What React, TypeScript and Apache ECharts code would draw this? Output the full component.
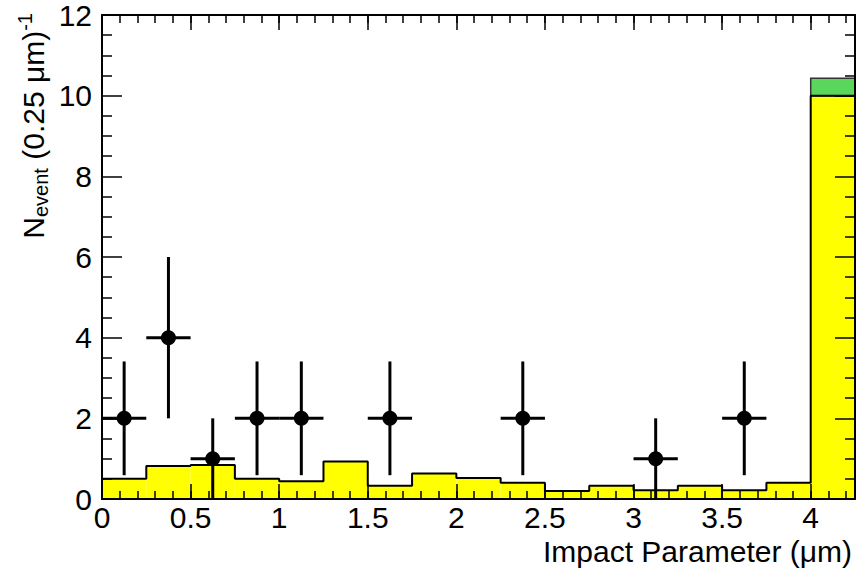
import React, { useEffect, useRef } from 'react';
import * as echarts from 'echarts';

// Histogram bins (left edges), width 0.25 um
const binEdges = [0, 0.25, 0.5, 0.75, 1.0, 1.25, 1.5, 1.75, 2.0, 2.25, 2.5, 2.75, 3.0, 3.25, 3.5, 3.75, 4.0];
const binWidth = 0.25;
// Yellow background expectation per bin
const bgValues = [0.5, 0.82, 0.84, 0.5, 0.44, 0.93, 0.33, 0.63, 0.52, 0.4, 0.2, 0.33, 0.22, 0.33, 0.22, 0.4, 10.0];
// Green component stacked on top
const greenValues = [0, 0, 0, 0, 0, 0, 0, 0, 0, 0, 0, 0, 0, 0, 0, 0, 0.43];

// Data points
const ptX = [0.125, 0.375, 0.625, 0.875, 1.125, 1.625, 2.375, 3.125, 3.625];
const ptY = [2, 4, 1, 2, 2, 2, 2, 1, 2];
const errLow = [1.41, 2, 1, 1.41, 1.41, 1.41, 1.41, 1, 1.41];
const errHigh = [1.41, 2, 1, 1.41, 1.41, 1.41, 1.41, 1, 1.41];

const FONT = '"Liberation Sans", Arial, Helvetica, sans-serif';

export default function App() {
  const ref = useRef<HTMLDivElement>(null);
  useEffect(() => {
    if (!ref.current) return;
    const chart = echarts.init(ref.current, null, { renderer: 'svg' });

    const xMin = 0;
    const xMax = 4.25;

    const baseX = {
      type: 'value',
      min: xMin,
      max: xMax,
      z: 10,
      splitLine: { show: false },
      axisLine: { show: false, onZero: false },
      axisLabel: { show: false },
      axisTick: { show: true, inside: true, length: 8, lineStyle: { color: '#000', width: 1.5 } },
    };
    const baseY = {
      type: 'value',
      min: 0,
      max: 12,
      interval: 2,
      z: 10,
      splitLine: { show: false },
      axisLine: { show: true, onZero: false, lineStyle: { color: '#000', width: 2 } },
      axisLabel: { show: false },
      axisTick: { show: true, inside: true, length: 20, lineStyle: { color: '#000', width: 1.5 } },
      minorTick: { show: true, splitNumber: 4, length: 10, lineStyle: { color: '#000', width: 1.5 } },
    };

    const histData = binEdges.map((e, i) => [e, e + binWidth, bgValues[i]]);
    const greenData = binEdges
      .map((e, i) => [e, e + binWidth, bgValues[i], bgValues[i] + greenValues[i]])
      .filter((d) => d[3] > d[2]);
    const outlineData = binEdges.map((e, i) => [e, bgValues[i]]);
    outlineData.push([binEdges[binEdges.length - 1] + binWidth, bgValues[bgValues.length - 1]]);
    const errData = ptX.map((x, i) => [x, ptY[i], ptY[i] - errLow[i], ptY[i] + errHigh[i], x - binWidth / 2, x + binWidth / 2]);

    chart.setOption({
      animation: false,
      backgroundColor: '#fff',
      textStyle: { fontFamily: FONT },
      grid: { left: 102, right: 3, top: 15, bottom: 73, containLabel: false },
      xAxis: [
        {
          ...baseX,
          position: 'bottom',
          interval: 0.5,
          axisLine: { show: true, onZero: false, lineStyle: { color: '#000', width: 2 } },
          axisTick: { show: true, inside: true, length: 15, lineStyle: { color: '#000', width: 1.5 } },
          axisLabel: { show: true, fontSize: 30, color: '#000', margin: 3, fontFamily: FONT, showMaxLabel: false },
        },
        { ...baseX, position: 'bottom', interval: 0.1 },
        {
          ...baseX,
          position: 'top',
          interval: 0.5,
          axisLine: { show: true, onZero: false, lineStyle: { color: '#000', width: 2 } },
          axisTick: { show: true, inside: true, length: 15, lineStyle: { color: '#000', width: 1.5 } },
        },
        { ...baseX, position: 'top', interval: 0.1 },
      ],
      yAxis: [
        {
          ...baseY,
          position: 'left',
          axisLabel: { show: true, fontSize: 30, color: '#000', margin: 10, fontFamily: FONT },
        },
        { ...baseY, position: 'right' },
      ],
      graphic: [
        {
          type: 'text',
          x: 852,
          y: 551,
          style: {
            text: 'Impact Parameter (\u03bcm)',
            font: `30px ${FONT}`,
            fill: '#000',
            align: 'right',
            verticalAlign: 'middle',
          },
        },
        {
          type: 'text',
          x: 33,
          y: 13,
          rotation: Math.PI / 2,
          style: {
            text: '{n|N}{sub|event}{n| (0.25 \u03bcm)}{sup|-1}',
            align: 'right',
            verticalAlign: 'middle',
            fill: '#000',
            rich: {
              n: { fontSize: 30, fontFamily: FONT, lineHeight: 36, verticalAlign: 'middle', fill: '#000' },
              sub: { fontSize: 20, fontFamily: FONT, lineHeight: 20, verticalAlign: 'bottom', fill: '#000' },
              sup: { fontSize: 20, fontFamily: FONT, lineHeight: 20, verticalAlign: 'top', fill: '#000' },
            },
          },
        },
      ],
      series: [
        {
          type: 'custom',
          xAxisIndex: 0,
          yAxisIndex: 0,
          z: 1,
          data: histData,
          encode: { x: [0, 1], y: 2 },
          renderItem: (params: any, api: any) => {
            const p0 = api.coord([api.value(0), api.value(2)]);
            const p1 = api.coord([api.value(1), 0]);
            return {
              type: 'rect',
              shape: { x: p0[0], y: p0[1], width: p1[0] - p0[0], height: p1[1] - p0[1] },
              style: { fill: '#ffff00' },
            };
          },
        },
        {
          type: 'custom',
          xAxisIndex: 0,
          yAxisIndex: 0,
          z: 2,
          data: greenData,
          encode: { x: [0, 1], y: [2, 3] },
          renderItem: (params: any, api: any) => {
            const p0 = api.coord([api.value(0), api.value(3)]);
            const p1 = api.coord([api.value(1), api.value(2)]);
            return {
              type: 'rect',
              shape: { x: p0[0], y: p0[1], width: p1[0] - p0[0], height: p1[1] - p0[1] },
              style: { fill: '#5ad65a', stroke: '#333', lineWidth: 1.5 },
            };
          },
        },
        {
          type: 'line',
          xAxisIndex: 0,
          yAxisIndex: 0,
          z: 3,
          step: 'end',
          symbol: 'none',
          data: outlineData,
          lineStyle: { color: '#000', width: 2 },
        },
        {
          type: 'custom',
          xAxisIndex: 0,
          yAxisIndex: 0,
          z: 4,
          data: errData,
          encode: { x: [0, 4, 5], y: [1, 2, 3] },
          renderItem: (params: any, api: any) => {
            const x = api.value(0);
            const y = api.value(1);
            const lo = api.coord([x, api.value(2)]);
            const hi = api.coord([x, api.value(3)]);
            const l = api.coord([api.value(4), y]);
            const r = api.coord([api.value(5), y]);
            const st = { stroke: '#000', lineWidth: 3 };
            return {
              type: 'group',
              children: [
                { type: 'line', shape: { x1: lo[0], y1: lo[1], x2: hi[0], y2: hi[1] }, style: st },
                { type: 'line', shape: { x1: l[0], y1: l[1], x2: r[0], y2: r[1] }, style: st },
              ],
            };
          },
        },
        {
          type: 'scatter',
          xAxisIndex: 0,
          yAxisIndex: 0,
          z: 5,
          symbol: 'circle',
          symbolSize: 15,
          itemStyle: { color: '#000', opacity: 1 },
          data: ptX.map((x, i) => [x, ptY[i]]),
        },
      ],
    });

    return () => chart.dispose();
  }, []);

  return (
    <div
      ref={ref}
      style={{ position: 'fixed', left: 0, top: 0, width: 858, height: 572, background: '#fff' }}
    />
  );
}
